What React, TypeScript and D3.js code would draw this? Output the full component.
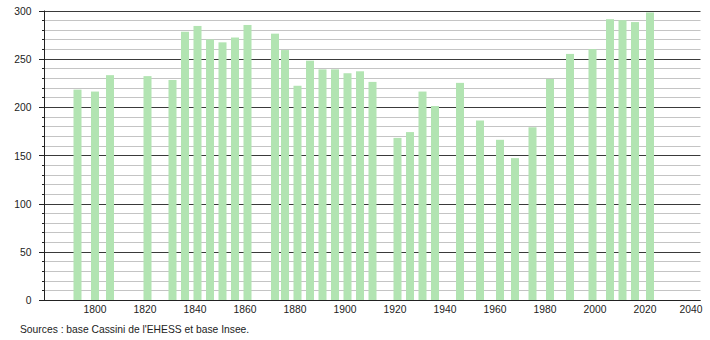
import React from "react";
import * as d3 from "d3";

const years = [1793, 1800, 1806, 1821, 1831, 1836, 1841, 1846, 1851, 1856, 1861, 1872, 1876, 1881, 1886, 1891, 1896, 1901, 1906, 1911, 1921, 1926, 1931, 1936, 1946, 1954, 1962, 1968, 1975, 1982, 1990, 1999, 2006, 2011, 2016, 2022];
const population = [218, 216, 233, 232, 228, 278, 284, 270, 267, 272, 285, 276, 259, 222, 248, 239, 239, 235, 237, 226, 168, 174, 216, 201, 225, 186, 166, 147, 179, 229, 255, 260, 291, 290, 288, 298];
const xTicks = [1800, 1820, 1840, 1860, 1880, 1900, 1920, 1940, 1960, 1980, 2000, 2020, 2040];
const yTicks = [0, 50, 100, 150, 200, 250, 300];
const sourceText = "Sources : base Cassini de l'EHESS et base Insee.";

export default function App() {
  const W = 710, H = 340;
  const left = 44, right = 700.5, top = 10.5, bottom = 300;
  const x = d3.scaleLinear().domain([1800, 2020]).range([95, 645]);
  const y = d3.scaleLinear().domain([0, 300]).range([bottom, top]);
  const minor = d3.range(0, 301, 10);
  const barW = 8;
  const font = "'Liberation Sans', Arial, Helvetica, sans-serif";
  const fs = 10.3;
  return (
    <svg width={W} height={H} style={{ position: "absolute", left: 0, top: 0, background: "#fff" }}>
      {minor.map((v) => {
        const major = v % 50 === 0;
        return (
          <g key={v}>
            <line x1={left} x2={right} y1={Math.round(y(v)) + 0.5} y2={Math.round(y(v)) + 0.5}
              stroke={major ? "#3a3a3a" : "#c4c4c4"} strokeWidth={1} />
            <line x1={major ? left - 5 : left - 2} x2={left} y1={Math.round(y(v)) + 0.5} y2={Math.round(y(v)) + 0.5}
              stroke="#222" strokeWidth={1} />
          </g>
        );
      })}
      {years.map((yr, i) => (
        <rect key={yr} x={x(yr) - barW / 2} y={y(population[i])} width={barW}
          height={bottom - y(population[i])} fill="#b2e4b2" />
      ))}
      <line x1={left + 0.5} x2={left + 0.5} y1={top} y2={bottom + 0.5} stroke="#222" strokeWidth={1} />
      <line x1={left} x2={right} y1={bottom + 0.5} y2={bottom + 0.5} stroke="#222" strokeWidth={1} />
      {yTicks.map((v) => (
        <text key={v} x={31.5} y={y(v) + 4.3} textAnchor="end" fontFamily={font} fontSize={fs} fill="#222">{v}</text>
      ))}
      {xTicks.map((v) => (
        <text key={v} x={v === 2040 ? 691 : x(v)} y={312.5} textAnchor="middle" fontFamily={font} fontSize={fs} fill="#222">{v}</text>
      ))}
      <text x={20} y={333} fontFamily={font} fontSize={fs} fill="#222">{sourceText}</text>
    </svg>
  );
}
